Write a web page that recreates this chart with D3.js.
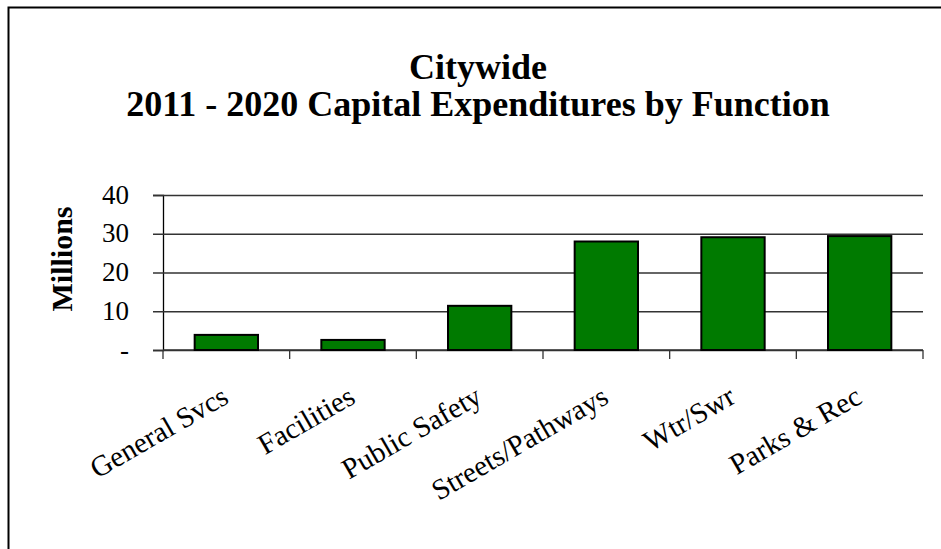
<!DOCTYPE html>
<html><head><meta charset="utf-8">
<script src="https://cdn.jsdelivr.net/npm/d3@7"></script>
<style>body{margin:0;background:#fff}svg{display:block}</style>
</head><body>
<script>
const categories = ["General Svcs","Facilities","Public Safety","Streets/Pathways","Wtr/Swr","Parks & Rec"];
const values = [3.9, 2.6, 11.4, 28.0, 29.1, 29.4];
const yTicks = [0, 10, 20, 30, 40];
const titleLines = ["Citywide","2011 - 2020 Capital Expenditures by Function"];
const yLabel = "Millions";

(function(){
const W = 941, H = 549;
const FONT = "'Liberation Serif', 'Times New Roman', serif";
const svg = d3.select("body").append("svg").attr("width", W).attr("height", H);
svg.append("rect").attr("x", 8.5).attr("y", 7.5).attr("width", 1000).attr("height", 1000)
  .attr("fill", "none").attr("stroke", "#000").attr("stroke-width", 2);

const mLeft = 163, mRight = 923, mTop = 195, mBottom = 350;
const x = d3.scaleBand().domain(categories).range([mLeft, mRight]).paddingInner(0.5).paddingOuter(0.25);
const y = d3.scaleLinear().domain([0, 40]).range([mBottom, mTop]);

const yAxis = d3.axisLeft(y).tickValues(yTicks).tickSize(10).tickFormat(d => d === 0 ? "-" : d);
const gy = svg.append("g").attr("transform", `translate(${mLeft},0)`).call(yAxis);
gy.select(".domain").attr("stroke", "#000").attr("stroke-width", 1.3);
gy.selectAll(".tick line").attr("x2", mRight - mLeft).attr("x1", -10).attr("stroke", "#333").attr("stroke-width", 1.3);
gy.selectAll(".tick text").attr("x", -34).attr("dy", "0.3em").attr("font-family", FONT)
  .attr("font-size", 27).attr("fill", "#000");

const gx = svg.append("g").attr("transform", `translate(0,${mBottom})`);
gx.append("line").attr("x1", mLeft).attr("x2", mRight).attr("stroke", "#333").attr("stroke-width", 1.3);
const bounds = categories.map(c => x(c) - x.step()*0.25).concat([mRight]);
gx.selectAll("line.bt").data(bounds).join("line").attr("class","bt")
  .attr("x1", d => d).attr("x2", d => d).attr("y1", 0).attr("y2", 9).attr("stroke", "#333").attr("stroke-width", 1.3);
gx.selectAll("text").data(categories).join("text")
  .attr("transform", d => `translate(${x(d) + x.bandwidth()/2 + 4},${52}) rotate(-30)`)
  .attr("text-anchor", "end")
  .attr("font-family", FONT).attr("font-size", 29)
  .text(d => d);

svg.append("g").selectAll("rect").data(values).join("rect")
  .attr("x", (d, i) => x(categories[i]))
  .attr("width", x.bandwidth())
  .attr("y", d => y(d))
  .attr("height", d => y(0) - y(d))
  .attr("fill", "#007a00").attr("stroke", "#000").attr("stroke-width", 2);

svg.append("g").selectAll("text").data(titleLines).join("text")
  .attr("x", 478).attr("y", (d, i) => 79 + i*37)
  .attr("text-anchor", "middle").attr("font-family", FONT)
  .attr("font-weight", "bold").attr("font-size", 36).text(d => d);

svg.append("text").attr("transform", `translate(72,259) rotate(-90)`)
  .attr("text-anchor", "middle").attr("font-family", FONT)
  .attr("font-weight", "bold").attr("font-size", 30).text(yLabel);
})();
</script>
</body></html>
